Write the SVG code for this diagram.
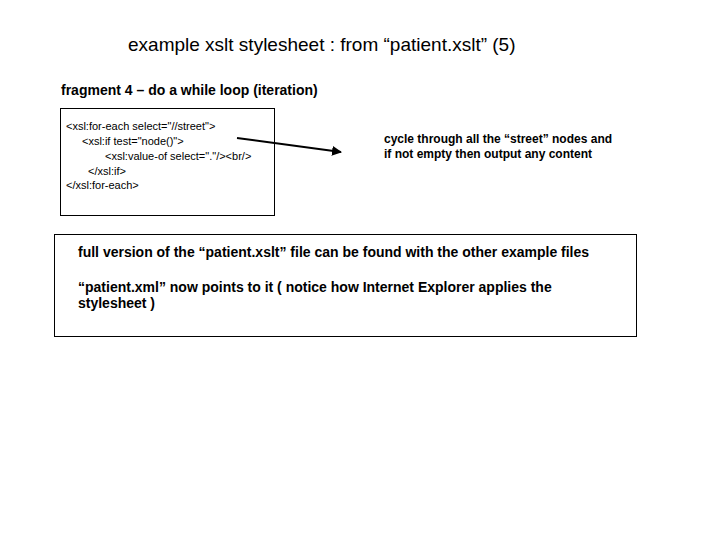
<svg xmlns="http://www.w3.org/2000/svg" width="720" height="540" viewBox="0 0 720 540">
<style>
text{font-family:"Liberation Sans",Arial,sans-serif;fill:#000}
.b{font-weight:bold;font-size:12px}
.bl{font-weight:bold;font-size:14px}
.c{font-size:11px}
.box{fill:#fff;stroke:#000;stroke-width:1}
</style>
<defs><marker id="a" viewBox="0 0 10 10" refX="9" refY="5" markerWidth="5" markerHeight="5" orient="auto"><path d="M0,0L10,5L0,10z" fill="#000"/></marker></defs>
<rect width="720" height="540" fill="#fff"/>
<text x="128" y="51" font-size="19">example xslt stylesheet : from “patient.xslt” (5)</text>
<text x="61" y="95" class="bl" font-size="13.5">fragment 4 – do a while loop (iteration)</text>
<g id="code">
<rect class="box" x="60.5" y="108.5" width="214" height="107"/>
<text class="c" x="66" y="130">&lt;xsl:for-each select="//street"&gt;</text>
<text class="c" x="82" y="145">&lt;xsl:if test="node()"&gt;</text>
<text class="c" x="105" y="160">&lt;xsl:value-of select="."/&gt;&lt;br/&gt;</text>
<text class="c" x="88" y="175">&lt;/xsl:if&gt;</text>
<text class="c" x="66" y="189">&lt;/xsl:for-each&gt;</text>
</g>
<g id="connectors"><line x1="237" y1="138" x2="341" y2="152" stroke="#000" stroke-width="2" marker-end="url(#a)"/></g>
<g id="desc">
<text class="b" x="384" y="143">cycle through all the “street” nodes and</text>
<text class="b" x="384" y="158">if not empty then output any content</text>
</g>
<g id="note">
<rect class="box" x="54.5" y="234.5" width="582" height="102"/>
<text class="bl" x="78" y="257">full version of the “patient.xslt” file can be found with the other example files</text>
<text class="bl" x="78" y="292">“patient.xml” now points to it ( notice how Internet Explorer applies the</text>
<text class="bl" x="78" y="308">stylesheet )</text>
</g>
</svg>
